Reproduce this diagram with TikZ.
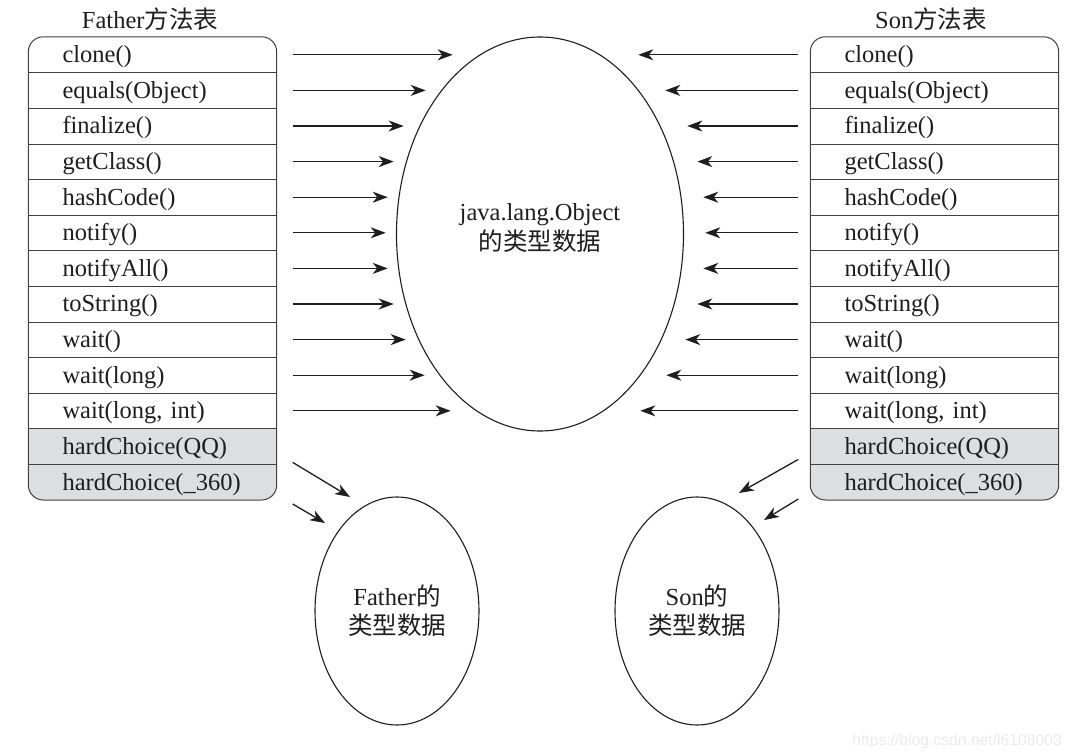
\documentclass[tikz,border=0pt]{standalone}
\usepackage{fontspec}
\setmainfont{Liberation Serif}
\newfontfamily\cjk{Noto Sans CJK SC}
\newfontfamily\wmfont{Liberation Sans}
\usetikzlibrary{arrows.meta, shapes.geometric, backgrounds}

\definecolor{inkgray}{HTML}{1E1E1E}
\definecolor{rowgray}{HTML}{DCDEE0}

\begin{document}
\begin{tikzpicture}[
    x=1pt, y=-1pt,
    font=\fontsize{24.5}{29}\selectfont,
    text=inkgray,
    method/.style={rectangle, minimum width=248pt, minimum height=35.6pt, inner xsep=34pt, inner ysep=0pt, text width=180pt, text height=21pt, text depth=5pt, align=left},
    title/.style={inner sep=0pt},
    data/.style={ellipse, draw=inkgray, line width=1.1pt, inner sep=0pt, align=center},
    frame/.style={draw=black!75, line width=1pt},
    rowline/.style={draw=black!75, line width=0.9pt},
    arr/.style={-{Stealth[length=15pt,width=11pt,inset=4.5pt]}, line width=1.3pt, draw=inkgray}
]
\useasboundingbox (0,0) rectangle (1072,754);

% --- titles ---
\node[title] (ftitle) at (150,19) {Father{\cjk 方法表}};
\node[title] (stitle) at (931,19) {Son{\cjk 方法表}};

% --- method tables ---
\foreach \i/\m in {1/clone(), 2/equals(Object), 3/finalize(), 4/getClass(), 5/hashCode(), 6/notify(), 7/notifyAll(), 8/toString(), 9/wait(), 10/wait(long), 11/{wait(long, int)}, 12/hardChoice(QQ), 13/hardChoice(\_360)}
{
    \node[method] (f\i) at (152.5, {37+35.6*(\i-0.5)}) {\m};
    \node[method] (s\i) at (934.5, {37+35.6*(\i-0.5)}) {\m};
}

\begin{scope}[on background layer]
    \fill[white] (0,0) rectangle (1072,754);
    \begin{scope}
        \clip[rounded corners=15pt] (f1.north west) rectangle (f13.south east);
        \fill[rowgray] (f12.north west) rectangle (f13.south east);
    \end{scope}
    \begin{scope}
        \clip[rounded corners=15pt] (s1.north west) rectangle (s13.south east);
        \fill[rowgray] (s12.north west) rectangle (s13.south east);
    \end{scope}
\end{scope}

\draw[frame, rounded corners=15pt] (f1.north west) rectangle (f13.south east);
\draw[frame, rounded corners=15pt] (s1.north west) rectangle (s13.south east);
\foreach \i in {1,...,12}
{
    \draw[rowline] (f\i.south west) -- (f\i.south east);
    \draw[rowline] (s\i.south west) -- (s\i.south east);
}

% --- type data ---
\node[data, minimum width=287pt, minimum height=394pt, text depth=14pt] (obj) at (540,234) {java.lang.Object\\[1pt]{\cjk 的类型数据}};
\node[data, minimum width=164pt, minimum height=228pt] (fdata) at (397,611) {Father{\cjk 的}\\[0pt]{\cjk 类型数据}};
\node[data, minimum width=164pt, minimum height=228pt] (sdata) at (697,611) {Son{\cjk 的}\\[0pt]{\cjk 类型数据}};

% --- inherited methods point to Object ---
\foreach \i/\len in {1/160, 2/133, 3/111, 4/101, 5/95, 6/93, 7/95, 8/101, 9/113, 10/132, 11/158}
{
    \path ([xshift=16pt]f\i.east) ++(\len,0) coordinate (fa\i);
    \draw[arr] ([xshift=16pt]f\i.east) -- (fa\i);
    \path ([xshift=-12pt]s\i.west) ++(-\len,0) coordinate (sa\i);
    \draw[arr] ([xshift=-12pt]s\i.west) -- (sa\i);
}

% --- own methods point to own type data ---
\coordinate (fq) at (350,497);
\coordinate (fr) at (325,523);
\coordinate (sq) at (739,493);
\coordinate (sr) at (764,520);
\draw[arr] ([xshift=16pt,yshift=-16pt]f12.east) -- (fq);
\draw[arr] ([xshift=16pt,yshift=-22pt]f13.east) -- (fr);
\draw[arr] ([xshift=-12pt,yshift=-13pt]s12.west) -- (sq);
\draw[arr] ([xshift=-12pt,yshift=-17pt]s13.west) -- (sr);

% --- watermark ---
\node[anchor=east, inner sep=0pt, text=black!8, font=\wmfont\fontsize{15.7}{18}\selectfont] (mark) at (1062,741) {https://blog.csdn.net/l6108003};
\end{tikzpicture}
\end{document}
